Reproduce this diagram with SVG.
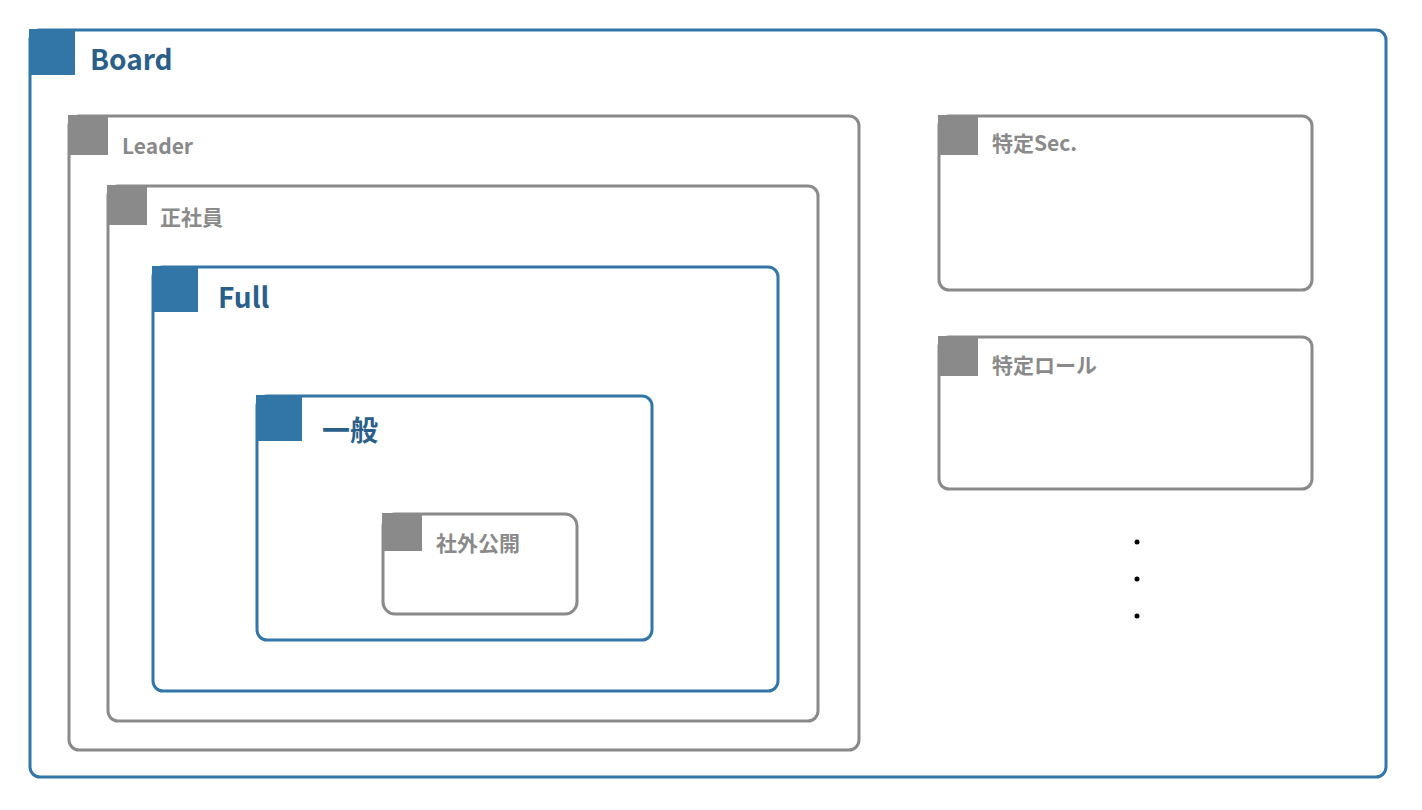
<svg xmlns="http://www.w3.org/2000/svg" width="1422" height="810" viewBox="0 0 1422 810">
<style>
.b{fill:none;stroke:#3276a8;stroke-width:3}
.g{fill:none;stroke:#8a8a8a;stroke-width:3}
.bs{fill:#3276a8}
.gs{fill:#8a8a8a}
.bt{font-family:"Noto Sans CJK JP","Noto Sans",sans-serif;font-weight:bold;fill:#2a5f8a;font-size:28px}
.gt{font-family:"Noto Sans CJK JP","Noto Sans",sans-serif;font-weight:bold;fill:#8a8a8a;font-size:21px}
</style>
<rect width="1422" height="810" fill="#fff"/>
<g id="board"><rect class="b" x="30" y="30" width="1356" height="747" rx="10"/><rect class="bs" x="29" y="29" width="46" height="46"/><text class="bt" x="90" y="70">Board</text></g>
<g id="leader"><rect class="g" x="69" y="116" width="790" height="634" rx="10"/><rect class="gs" x="68" y="115" width="40" height="40"/><text class="gt" x="122" y="154">Leader</text></g>
<g id="seishain"><rect class="g" x="108" y="186" width="710" height="535" rx="10"/><rect class="gs" x="107" y="185" width="40" height="40"/><text class="gt" x="160" y="225" font-size="20">正社員</text></g>
<g id="full"><rect class="b" x="153" y="267" width="625" height="424" rx="10"/><rect class="bs" x="152" y="266" width="46" height="46"/><text class="bt" x="218" y="308">Full</text></g>
<g id="ippan"><rect class="b" x="257" y="396" width="395" height="244" rx="10"/><rect class="bs" x="256" y="395" width="46" height="46"/><text class="bt" x="322" y="441">一般</text></g>
<g id="shagai"><rect class="g" x="383" y="514" width="194" height="100" rx="12"/><rect class="gs" x="382" y="513" width="40" height="38"/><text class="gt" x="436" y="551" font-size="19">社外公開</text></g>
<g id="sec"><rect class="g" x="939" y="116" width="373" height="174" rx="10"/><rect class="gs" x="938" y="115" width="40" height="40"/><text class="gt" x="992" y="151">特定Sec.</text></g>
<g id="role"><rect class="g" x="939" y="337" width="373" height="152" rx="10"/><rect class="gs" x="938" y="336" width="40" height="40"/><text class="gt" x="992" y="373">特定ロール</text></g>
<g id="dots" fill="#000"><circle cx="1137" cy="542" r="2.5"/><circle cx="1137" cy="579" r="2.5"/><circle cx="1137" cy="616" r="2.5"/></g>
<g id="connectors"/>
</svg>
